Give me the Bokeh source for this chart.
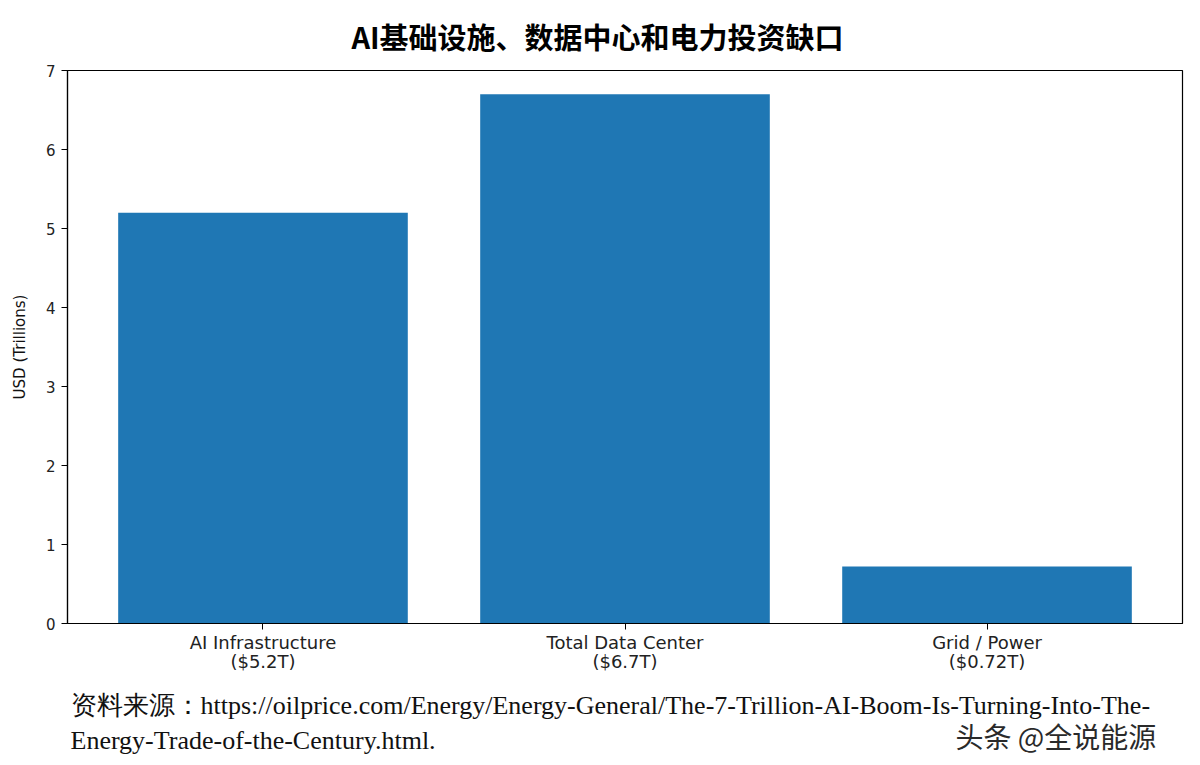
from bokeh.plotting import figure
from bokeh.models import Range1d, FixedTicker, Label
from bokeh.layouts import column
from bokeh.embed import file_html
from bokeh.resources import INLINE

categories = ["AI Infrastructure\n($5.2T)", "Total Data Center\n($6.7T)", "Grid / Power\n($0.72T)"]
values = [5.2, 6.7, 0.72]
y_ticks = [0, 1, 2, 3, 4, 5, 6, 7]
title_text = "AI基础设施、数据中心和电力投资缺口"
y_label = "USD (Trillions)"
source_line1 = "资料来源：https://oilprice.com/Energy/Energy-General/The-7-Trillion-AI-Boom-Is-Turning-Into-The-"
source_line2 = "Energy-Trade-of-the-Century.html."
watermark = "头条 @全说能源"

xs = list(range(len(categories)))

W, H0, H1, H2 = 1184, 60, 615, 82
LEFT, RIGHT = 67, 2


def blank(height):
    fig = figure(width=W, height=height, output_backend="svg", toolbar_location=None,
                 x_range=Range1d(0, 1), y_range=Range1d(0, 1),
                 min_border_left=LEFT, min_border_right=RIGHT, min_border_top=0, min_border_bottom=0)
    fig.axis.visible = False
    fig.grid.visible = False
    fig.outline_line_color = None
    fig.background_fill_color = "white"
    fig.border_fill_color = "white"
    return fig


# header with the title (centred on the page, as in the original)
h = blank(H0)
h.add_layout(Label(x=530, y=25, x_units="screen", y_units="screen", text=title_text,
                   text_font="Noto Sans CJK SC", text_font_size="29px", text_font_style="bold",
                   text_color="#000000", text_baseline="middle", text_align="center"))

p = figure(width=W, height=H1, output_backend="svg", toolbar_location=None,
           x_range=Range1d(-0.54, len(categories) - 1 + 0.54), y_range=Range1d(0, 7),
           min_border_left=LEFT, min_border_right=RIGHT, min_border_top=10,
           min_border_bottom=H1 - 10 - 553)

p.vbar(x=xs, top=values, width=0.8, bottom=0, fill_color="#1f77b4", line_color=None)

p.xgrid.visible = False
p.ygrid.visible = False
p.outline_line_color = "#000000"
p.outline_line_width = 1.2
p.outline_line_alpha = 1
p.background_fill_color = "white"
p.border_fill_color = "white"

p.xaxis.ticker = FixedTicker(ticks=xs)
p.xaxis.major_label_overrides = {i: c for i, c in zip(xs, categories)}
p.yaxis.ticker = FixedTicker(ticks=y_ticks)
for ax in (p.xaxis[0], p.yaxis[0]):
    ax.axis_line_color = "#000000"
    ax.axis_line_width = 1.2
    ax.major_tick_line_color = "#000000"
    ax.major_tick_in = 0
    ax.major_tick_out = 6
    ax.minor_tick_line_color = None
    ax.major_label_text_font = "DejaVu Sans"
    ax.major_label_text_color = "#222222"
ax = p.xaxis[0]
ax.major_label_text_font_size = "18px"
ax.major_label_standoff = 2
ax.major_label_text_line_height = 0.95
ay = p.yaxis[0]
ay.major_label_text_font_size = "15px"
ay.major_label_standoff = 6
ay.axis_label = y_label
ay.axis_label_text_font = "DejaVu Sans"
ay.axis_label_text_font_size = "15px"
ay.axis_label_text_font_style = "normal"
ay.axis_label_text_color = "#111111"
ay.axis_label_standoff = 14

# footer: source note and watermark (frame aligned with the chart above)
f = blank(H2)
f.add_layout(Label(x=3, y=52, x_units="screen", y_units="screen", text=source_line1,
                   text_font="Liberation Serif", text_font_size="26px", text_color="#111111",
                   text_baseline="alphabetic", text_align="left"))
f.add_layout(Label(x=3, y=17, x_units="screen", y_units="screen", text=source_line2,
                   text_font="Liberation Serif", text_font_size="26px", text_color="#111111",
                   text_baseline="alphabetic", text_align="left"))
f.add_layout(Label(x=888, y=22, x_units="screen", y_units="screen", text=watermark,
                   text_font="Noto Sans CJK SC", text_font_size="28px", text_color="#2a2a2a",
                   text_baseline="alphabetic", text_align="left"))

layout = column(h, p, f, spacing=0)
open("out.html", "w").write(file_html(layout, INLINE))
